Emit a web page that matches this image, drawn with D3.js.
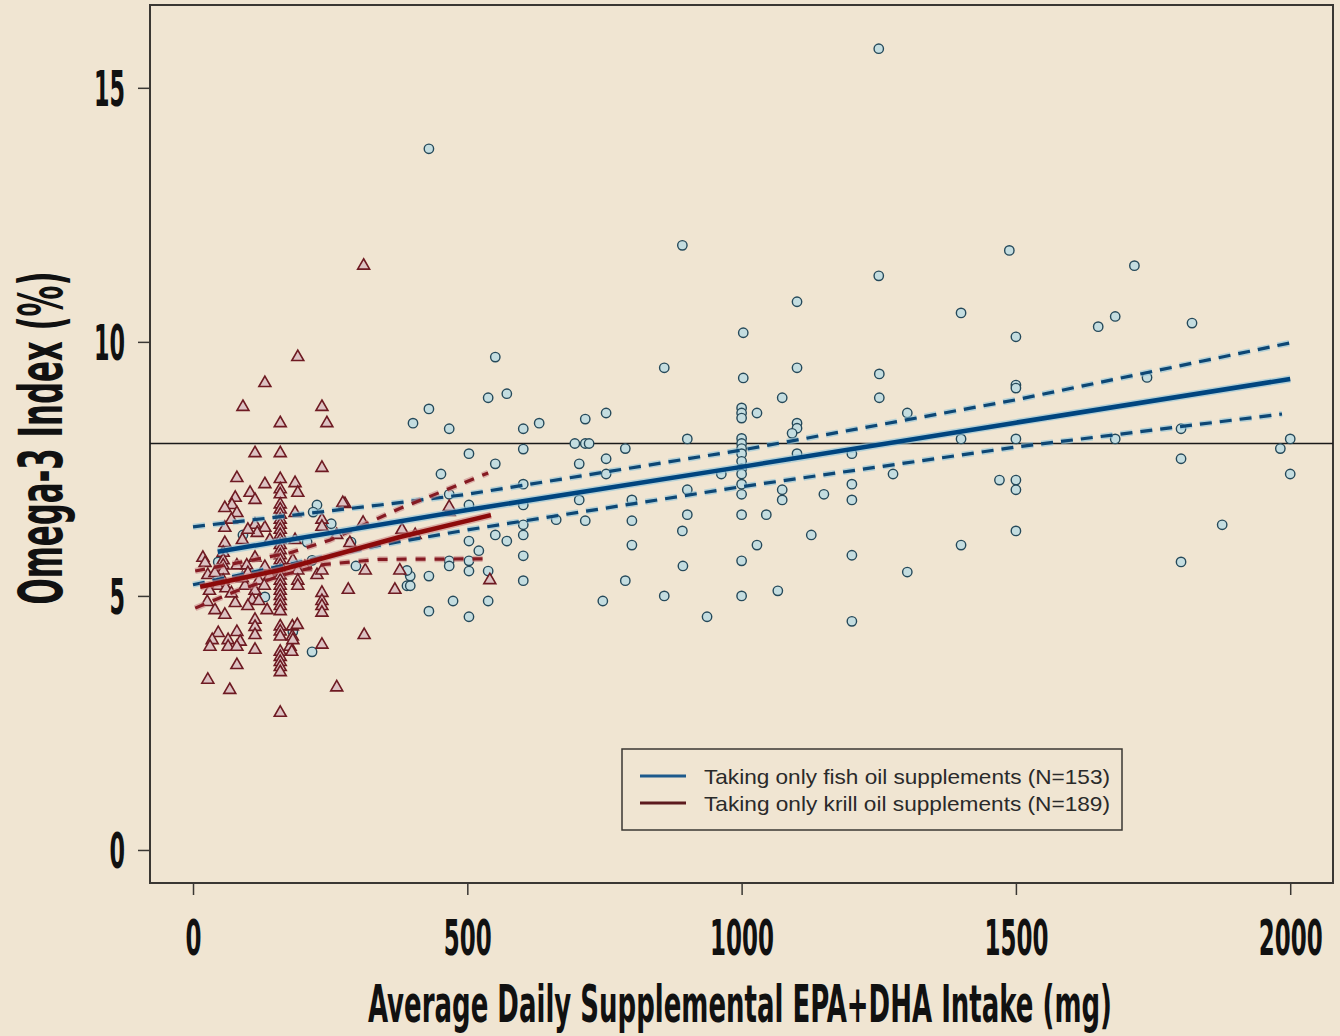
<!DOCTYPE html>
<html>
<head>
<meta charset="utf-8">
<script src="https://cdn.jsdelivr.net/npm/d3@7"></script>
<style>
    html, body { margin: 0; padding: 0; background: #f0e5d2; }
    #chart { width: 1340px; height: 1036px; }
</style>
</head>
<body>
<div id="chart"></div>
<script>

// Fish oil group (circles): [EPA+DHA mg/day, Omega-3 Index %]
const fishPoints = [
    [1488,11.8],[1716,11.5],[1500,10.1],[1650,10.3],[1681,10.5],[1821,10.37],[1500,9.15],[1500,9.09],
    [1739,9.3],[1500,8.09],[1681,8.09],[1801,8.29],[1801,7.7],[2000,8.09],[1982,7.9],[2000,7.4],
    [1470,7.28],[1500,7.28],[1500,7.09],[1500,6.28],[1876,6.4],[1801,5.67],[1400,10.57],[1400,8.09],[1400,6.0],
    [1101,10.79],[1003,10.18],[1101,9.49],[1003,9.29],[1251,9.37],[1251,8.9],[1074,8.9],[1302,8.6],
    [1028,8.6],[1000,8.7],[1000,8.6],[1000,8.5],[1101,8.4],[1101,8.3],[1092,8.2],[1000,8.1],[1000,8.0],
    [1000,7.9],[1000,7.8],[1000,7.65],[1000,7.5],[1101,7.8],[1201,7.8],[1000,7.4],[1000,7.2],[1000,7.0],
    [1276,7.4],[1074,7.09],[1074,6.89],[1150,7.0],[1201,7.2],[1201,6.89],[1000,6.6],[1045,6.6],[1127,6.2],
    [1028,6.0],[1201,5.8],[1302,5.47],[1000,5.69],[1000,5.0],[1066,5.1],[1201,4.5],
    [1250,15.77],[430,13.8],[892,11.9],[1250,11.3],
    [859,9.49],[715,8.48],[753,8.6],[696,8.0],[715,8.0],[722,8.0],[901,8.09],[788,7.9],[704,7.6],
    [753,7.7],[753,7.4],[901,7.09],[963,7.4],[704,6.89],[800,6.89],[662,6.5],[715,6.48],[800,6.48],
    [901,6.6],[892,6.28],[800,6.0],[893,5.59],[788,5.3],[747,4.9],[859,5.0],[937,4.59],
    [551,9.7],[572,8.98],[538,8.9],[430,8.68],[401,8.4],[467,8.29],[602,8.29],[631,8.4],[602,7.89],
    [503,7.8],[551,7.6],[452,7.4],[602,7.2],[467,7.0],[503,6.79],[602,6.79],[602,6.4],[602,6.2],
    [551,6.2],[572,6.08],[503,6.08],[521,5.89],[602,5.79],[467,5.69],[467,5.59],[503,5.69],[503,5.49],
    [538,5.49],[396,5.39],[430,5.39],[390,5.2],[396,5.2],[602,5.3],[474,4.9],[538,4.9],[430,4.7],[503,4.59],
    [226,6.79],[219,6.65],[252,6.42],[208,6.06],[288,6.06],[217,5.7],[297,5.59],[91,6.2],[46,5.67],
    [131,4.98],[182,4.3],[217,3.9],[390,5.5]
];

// Krill oil group (triangles)
const krillPoints = [
    [131,9.19],[91,8.72],[235,8.72],[159,8.4],[244,8.4],[113,7.81],[159,7.81],[235,7.52],[80,7.32],
    [131,7.2],[159,7.3],[159,7.1],[159,7.0],[186,7.22],[191,7.03],[104,7.03],[113,6.89],[77,6.93],
    [71,6.79],[58,6.73],[80,6.63],[235,6.5],[235,6.36],[277,6.81],[186,6.63],
    [159,6.8],[159,6.7],[159,6.6],[159,6.5],[159,6.4],[159,6.3],[159,6.2],[159,6.1],[159,6.0],[159,5.9],
    [159,5.8],[159,5.7],[159,5.6],[159,5.5],[159,5.4],[159,5.3],[159,5.2],[159,5.1],[159,5.0],[159,4.9],
    [159,4.8],[159,4.7],[159,4.4],[159,4.3],[159,4.2],[159,3.9],[159,3.8],[159,3.7],[159,3.6],[159,3.5],[159,2.7],
    [58,6.34],[113,6.4],[131,6.34],[117,6.24],[58,6.04],[18,5.75],[55,5.85],[55,5.7],[55,5.6],[55,5.5],
    [55,5.3],[113,5.75],[80,5.6],[98,5.6],[27,5.41],[131,5.57],[95,5.2],[113,5.1],[26,4.88],[40,4.72],
    [77,4.86],[58,4.63],[108,4.92],[135,4.72],[113,4.53],[113,4.39],[113,4.23],[46,4.27],[35,4.13],
    [31,4.0],[64,4.13],[64,4.0],[80,4.29],[86,4.1],[80,4.0],[113,3.94],[80,3.64],[27,3.35],[67,3.15],
    [181,4.4],[181,4.2],[177,4.0],
    [191,9.7],[311,11.5],[273,6.83],[310,6.44],[381,6.3],[262,6.2],[186,6.1],[286,6.04],[182,5.7],
    [204,5.57],[191,5.5],[191,5.3],[191,5.2],[226,5.41],[235,5.5],[314,5.5],[377,5.5],[283,5.12],
    [368,5.12],[235,5.06],[235,4.9],[235,4.8],[235,4.67],[190,4.43],[182,4.13],[180,3.9],[235,4.04],
    [312,4.23],[262,3.2],[405,6.2],[467,6.65],[467,6.75],[541,5.31],[22,5.65],
    [40,5.45],[45,5.2],[30,5.1],[60,5.15],[70,5.05],[90,5.35],[100,5.45],[120,5.3],[140,5.4],
    [130,5.2],[100,4.8],[120,4.9],[90,6.1],[100,6.3],[140,6.1],[70,6.5]
];

// Fitted lines and 95% bands
const fishFit  = [[45,5.87],[500,6.69],[1000,7.54],[1500,8.41],[2000,9.27]];
const fishHi   = [[0,6.36],[341,6.79],[500,7.0],[1000,7.87],[1500,8.86],[2000,9.98]];
const fishLo   = [[0,5.22],[341,6.0],[500,6.3],[1000,7.15],[1500,7.93],[1985,8.58]];
const krillFit = [[13,5.18],[159,5.51],[377,6.16],[543,6.59]];
const krillHi  = [[4,5.49],[177,5.85],[250,6.1],[377,6.72],[538,7.42]];
const krillLo  = [[4,4.76],[80,5.1],[160,5.4],[240,5.62],[340,5.72],[532,5.73]];

const xTicks = [0, 500, 1000, 1500, 2000];
const yTicks = [0, 5, 10, 15];
const refLine = 8;

const legendLabels = [
    "Taking only fish oil supplements (N=153)",
    "Taking only krill oil supplements (N=189)"
];

class FitScatter {
    constructor(parentElement) {
        this.parentElement = parentElement;
        this.initVis();
    }

    initVis() {
        let vis = this;

        vis.margin = {top: 5, left: 150};
        vis.width = 1183;
        vis.height = 878;

        vis.svg = d3.select("#" + vis.parentElement).append("svg")
            .attr("width", 1340)
            .attr("height", 1036);

        vis.svg.append("rect")
            .attr("width", 1340).attr("height", 1036)
            .attr("fill", "#f0e5d2");

        vis.g = vis.svg.append("g")
            .attr("transform", `translate(${vis.margin.left},${vis.margin.top})`);

        vis.x = d3.scaleLinear().domain([-78.4, 2078]).range([0, vis.width]);
        vis.y = d3.scaleLinear().domain([-0.65, 16.63]).range([vis.height, 0]);

        vis.condensed = "'Liberation Sans Narrow', 'DejaVu Sans Condensed', 'Roboto', sans-serif";

        vis.updateVis();
    }

    updateVis() {
        let vis = this;

        // frame
        vis.g.append("rect")
            .attr("width", vis.width).attr("height", vis.height)
            .attr("fill", "none")
            .attr("stroke", "#3a3733")
            .attr("stroke-width", 2);

        // axes (ticks only, frame draws the domain line)
        let xAxis = d3.axisBottom(vis.x).tickValues(xTicks).tickFormat(d3.format("d"))
            .tickSize(12).tickPadding(24);
        let gx = vis.g.append("g")
            .attr("transform", `translate(0,${vis.height})`)
            .call(xAxis);
        gx.select(".domain").remove();
        gx.selectAll("line").attr("stroke", "#3a3733").attr("stroke-width", 1.5);
        gx.selectAll("text")
            .attr("fill", "#111")
            .style("font-family", vis.condensed)
            .style("font-weight", "bold")
            .style("font-size", "50px")
            .attr("textLength", d => String(d).length * 16)
            .attr("lengthAdjust", "spacingAndGlyphs");

        let yAxis = d3.axisLeft(vis.y).tickValues(yTicks).tickFormat(d3.format("d"))
            .tickSize(12).tickPadding(13);
        let gy = vis.g.append("g").call(yAxis);
        gy.select(".domain").remove();
        gy.selectAll("line").attr("stroke", "#3a3733").attr("stroke-width", 1.5);
        gy.selectAll("text")
            .attr("fill", "#111")
            .attr("dy", "0.36em")
            .style("font-family", vis.condensed)
            .style("font-weight", "bold")
            .style("font-size", "50px")
            .attr("textLength", d => String(d).length * 15.5)
            .attr("lengthAdjust", "spacingAndGlyphs");

        // axis titles
        vis.svg.append("text")
            .attr("x", 740).attr("y", 1022)
            .attr("text-anchor", "middle")
            .attr("fill", "#111")
            .style("font-family", vis.condensed)
            .style("font-weight", "bold")
            .style("font-size", "51px")
            .attr("textLength", 744)
            .attr("lengthAdjust", "spacingAndGlyphs")
            .text("Average Daily Supplemental EPA+DHA Intake (mg)");

        vis.svg.append("text")
            .attr("transform", "translate(62,438) rotate(-90)")
            .attr("text-anchor", "middle")
            .attr("fill", "#111")
            .style("font-family", vis.condensed)
            .style("font-weight", "bold")
            .style("font-size", "60px")
            .attr("textLength", 333)
            .attr("lengthAdjust", "spacingAndGlyphs")
            .text("Omega-3 Index (%)");

        // reference line at 8 %
        vis.g.append("line")
            .attr("x1", 0).attr("x2", vis.width)
            .attr("y1", vis.y(refLine)).attr("y2", vis.y(refLine))
            .attr("stroke", "#1a1a1a")
            .attr("stroke-width", 1.5);

        // points
        vis.g.selectAll(".fish")
            .data(fishPoints)
            .enter().append("circle")
            .attr("class", "fish")
            .attr("cx", d => vis.x(d[0]))
            .attr("cy", d => vis.y(d[1]))
            .attr("r", 4.7)
            .attr("fill", "#c4dde0")
            .attr("stroke", "#25495a")
            .attr("stroke-width", 1.4);

        let tri = d3.symbol().type(d3.symbolTriangle).size(62);
        vis.g.selectAll(".krill")
            .data(krillPoints)
            .enter().append("path")
            .attr("class", "krill")
            .attr("d", tri)
            .attr("transform", d => `translate(${vis.x(d[0])},${vis.y(d[1])})`)
            .attr("fill", "#dcc2c2")
            .attr("stroke", "#6e1a22")
            .attr("stroke-width", 1.6);

        // fitted lines
        let line = d3.line()
            .x(d => vis.x(d[0]))
            .y(d => vis.y(d[1]));

        let drawLine = function (data, color, halo, width, dash) {
            if (halo) {
                vis.g.append("path")
                    .attr("d", line(data))
                    .attr("fill", "none")
                    .attr("stroke", halo)
                    .attr("stroke-width", width + 3)
                    .attr("stroke-opacity", 0.6)
                    .attr("stroke-dasharray", dash);
            }
            vis.g.append("path")
                .attr("d", line(data))
                .attr("fill", "none")
                .attr("stroke", color)
                .attr("stroke-width", width)
                .attr("stroke-dasharray", dash);
        };

        drawLine(fishHi, "#0d4775", "#8ec3d9", 3.2, "12,8");
        drawLine(fishLo, "#0d4775", "#8ec3d9", 3.2, "12,8");
        drawLine(krillHi, "#861a22", "#c98a8a", 3.2, "10,9");
        drawLine(krillLo, "#861a22", "#c98a8a", 3.2, "10,9");
        drawLine(fishFit, "#00457f", "#8ec3d9", 4.5, null);
        drawLine(krillFit, "#8c0a0a", "#c98080", 4.5, null);

        // legend
        let lg = vis.svg.append("g").attr("transform", "translate(622,749)");
        lg.append("rect")
            .attr("width", 500).attr("height", 81)
            .attr("fill", "none")
            .attr("stroke", "#3a3733")
            .attr("stroke-width", 1.5);
        let legendColors = ["#1d5a8c", "#5c1a1e"];
        legendLabels.forEach((label, i) => {
            lg.append("line")
                .attr("x1", 18).attr("x2", 64)
                .attr("y1", 27 + i * 27).attr("y2", 27 + i * 27)
                .attr("stroke", legendColors[i])
                .attr("stroke-width", 3);
            lg.append("text")
                .attr("x", 82).attr("y", 35 + i * 27)
                .attr("fill", "#2a2a2a")
                .style("font-family", "'Liberation Sans', Arial, sans-serif")
                .style("font-size", "21px")
                .attr("textLength", 406)
                .attr("lengthAdjust", "spacingAndGlyphs")
                .text(label);
        });
    }
}

new FitScatter("chart");
</script>
</body>
</html>
